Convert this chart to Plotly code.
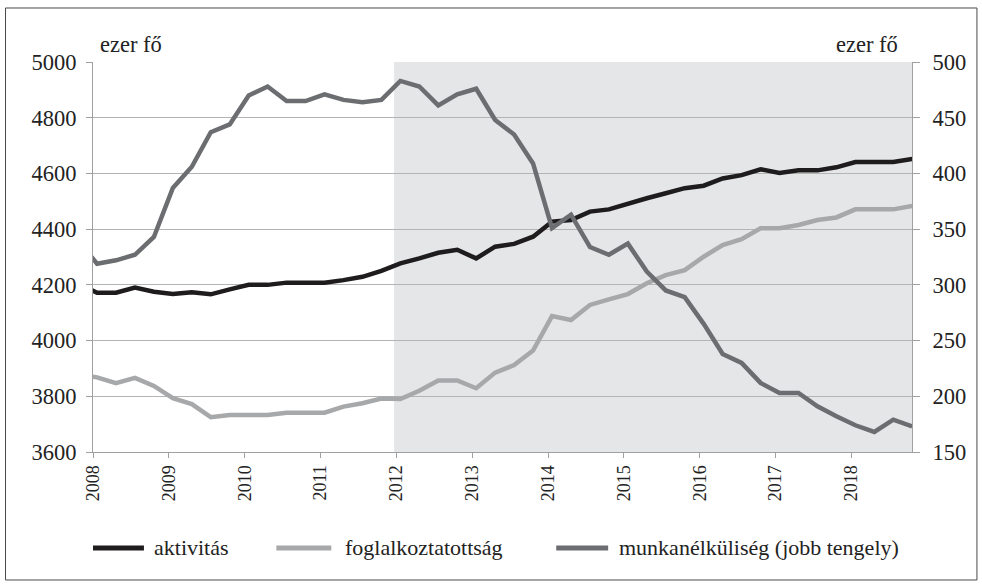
import plotly.graph_objects as go

# ---- data (thousand persons), quarterly 2007Q4 .. 2018Q4 (2007Q4 only partly visible, clipped) ----
quarters = ["2007Q4"] + [f"{y}Q{q}" for y in range(2008, 2019) for q in range(1, 5)]

aktivitas = [4205,
             4172, 4172, 4190, 4175, 4167, 4173, 4166, 4184, 4200, 4200, 4208, 4208,
             4208, 4217, 4229, 4250, 4277, 4295, 4315, 4326, 4295, 4337, 4347, 4373,
             4427, 4433, 4463, 4471, 4493, 4511, 4529, 4547, 4556, 4582, 4594, 4615,
             4602, 4611, 4611, 4622, 4641, 4641, 4641, 4652]

foglalkoztatottsag = [3878,
                      3868, 3847, 3866, 3837, 3793, 3772, 3725, 3733, 3733, 3733, 3741, 3741,
                      3741, 3763, 3775, 3792, 3790, 3820, 3857, 3857, 3829, 3885, 3912, 3964,
                      4088, 4074, 4128, 4148, 4167, 4206, 4235, 4253, 4301, 4343, 4364, 4403,
                      4403, 4415, 4433, 4442, 4471, 4471, 4471, 4483]

munkanelkuliseg = [340,
                   319, 322, 327, 343, 387, 406, 437, 444, 470, 478, 465, 465,
                   471, 466, 464, 466, 483, 478, 461, 471, 476, 448, 435, 409,
                   351, 363, 334, 327, 337, 312, 295, 289, 265, 238, 230, 212,
                   203, 203, 191, 182, 174, 168, 179, 173]

year_ticks = list(range(2008, 2019))
year_labels = [str(y) for y in year_ticks]
shade_start = 2012

series_names = ["aktivitás", "foglalkoztatottság", "munkanélküliség (jobb tengely)"]
colors = ["#1e1c1d", "#a7a8aa", "#6c6d70"]


def qpos(label):
    y, q = label.split("Q")
    return int(y) + (int(q) - 1) * 0.25 + 0.053


x = [qpos(q) for q in quarters]

FONT = "Liberation Serif, Times New Roman, serif"
TXT = "#222222"
fig = go.Figure()

fig.add_trace(go.Scatter(x=x, y=aktivitas, mode="lines", name=series_names[0],
                         line=dict(color=colors[0], width=4.5), showlegend=False))
fig.add_trace(go.Scatter(x=x, y=foglalkoztatottsag, mode="lines", name=series_names[1],
                         line=dict(color=colors[1], width=4.5), showlegend=False))
fig.add_trace(go.Scatter(x=x, y=munkanelkuliseg, mode="lines", name=series_names[2],
                         line=dict(color=colors[2], width=4.5), yaxis="y2", showlegend=False))

shapes = []
# shaded period
shapes.append(dict(type="rect", xref="x", yref="paper", x0=shade_start - 0.03, x1=2018.8,
                   y0=0, y1=1, fillcolor="#e5e6e8", line=dict(width=0), layer="below"))
# outer frame
shapes.append(dict(type="rect", xref="paper", yref="paper", x0=-0.1068, x1=1.0793,
                   y0=-0.3282, y1=1.1385, line=dict(color="#4a4a4a", width=1),
                   fillcolor="rgba(0,0,0,0)"))

# custom legend
leg_y = -0.246
leg_items = [(0.0, 0.0622, 0.0726), (0.2239, 0.291, 0.3057), (0.5656, 0.629, 0.640)]
annotations = []
for (xa, xb, xt), name, col in zip(leg_items, series_names, colors):
    shapes.append(dict(type="line", xref="paper", yref="paper", x0=xa, x1=xb,
                       y0=leg_y, y1=leg_y, line=dict(color=col, width=5)))
    annotations.append(dict(xref="paper", yref="paper", x=xt, y=leg_y, text=name,
                            showarrow=False, xanchor="left", yanchor="middle",
                            font=dict(family=FONT, size=22, color=TXT)))

annotations.append(dict(xref="paper", yref="paper", x=0.0055, y=1.046, text="ezer fő",
                        showarrow=False, xanchor="left", yanchor="middle",
                        font=dict(family=FONT, size=22.5, color=TXT)))
annotations.append(dict(xref="paper", yref="paper", x=0.9853, y=1.046, text="ezer fő",
                        showarrow=False, xanchor="right", yanchor="middle",
                        font=dict(family=FONT, size=22.5, color=TXT)))

fig.update_layout(
    width=982, height=587,
    margin=dict(l=92.5, r=70, t=62, b=135),
    paper_bgcolor="white", plot_bgcolor="white",
    font=dict(family=FONT, size=18, color=TXT),
    shapes=shapes, annotations=annotations,
    xaxis=dict(range=[2008, 2018.8], tickvals=year_ticks, ticktext=year_labels,
               tickangle=-90, showgrid=False, zeroline=False,
               showline=True, linecolor="#a0a0a0", linewidth=1,
               ticks="outside", ticklen=5, tickcolor="#a0a0a0",
               tickfont=dict(family=FONT, size=18, color=TXT)),
    yaxis=dict(range=[3600, 5000], dtick=200, showgrid=True, gridcolor="#b4b4b4",
               gridwidth=1, zeroline=False, showline=True, linecolor="#a0a0a0",
               ticks="outside", ticklen=6, tickcolor="#a0a0a0", ticklabelstandoff=5,
               tickfont=dict(family=FONT, size=22.5, color=TXT)),
    yaxis2=dict(range=[150, 500], dtick=50, overlaying="y", side="right",
                showgrid=False, zeroline=False, showline=True, linecolor="#a0a0a0",
                ticks="outside", ticklen=7, tickcolor="#a0a0a0", ticklabelstandoff=8,
                tickfont=dict(family=FONT, size=22.5, color=TXT)),
)

fig.write_html("out.html", config={"displayModeBar": False},
               post_script="document.body.style.margin='0';")
